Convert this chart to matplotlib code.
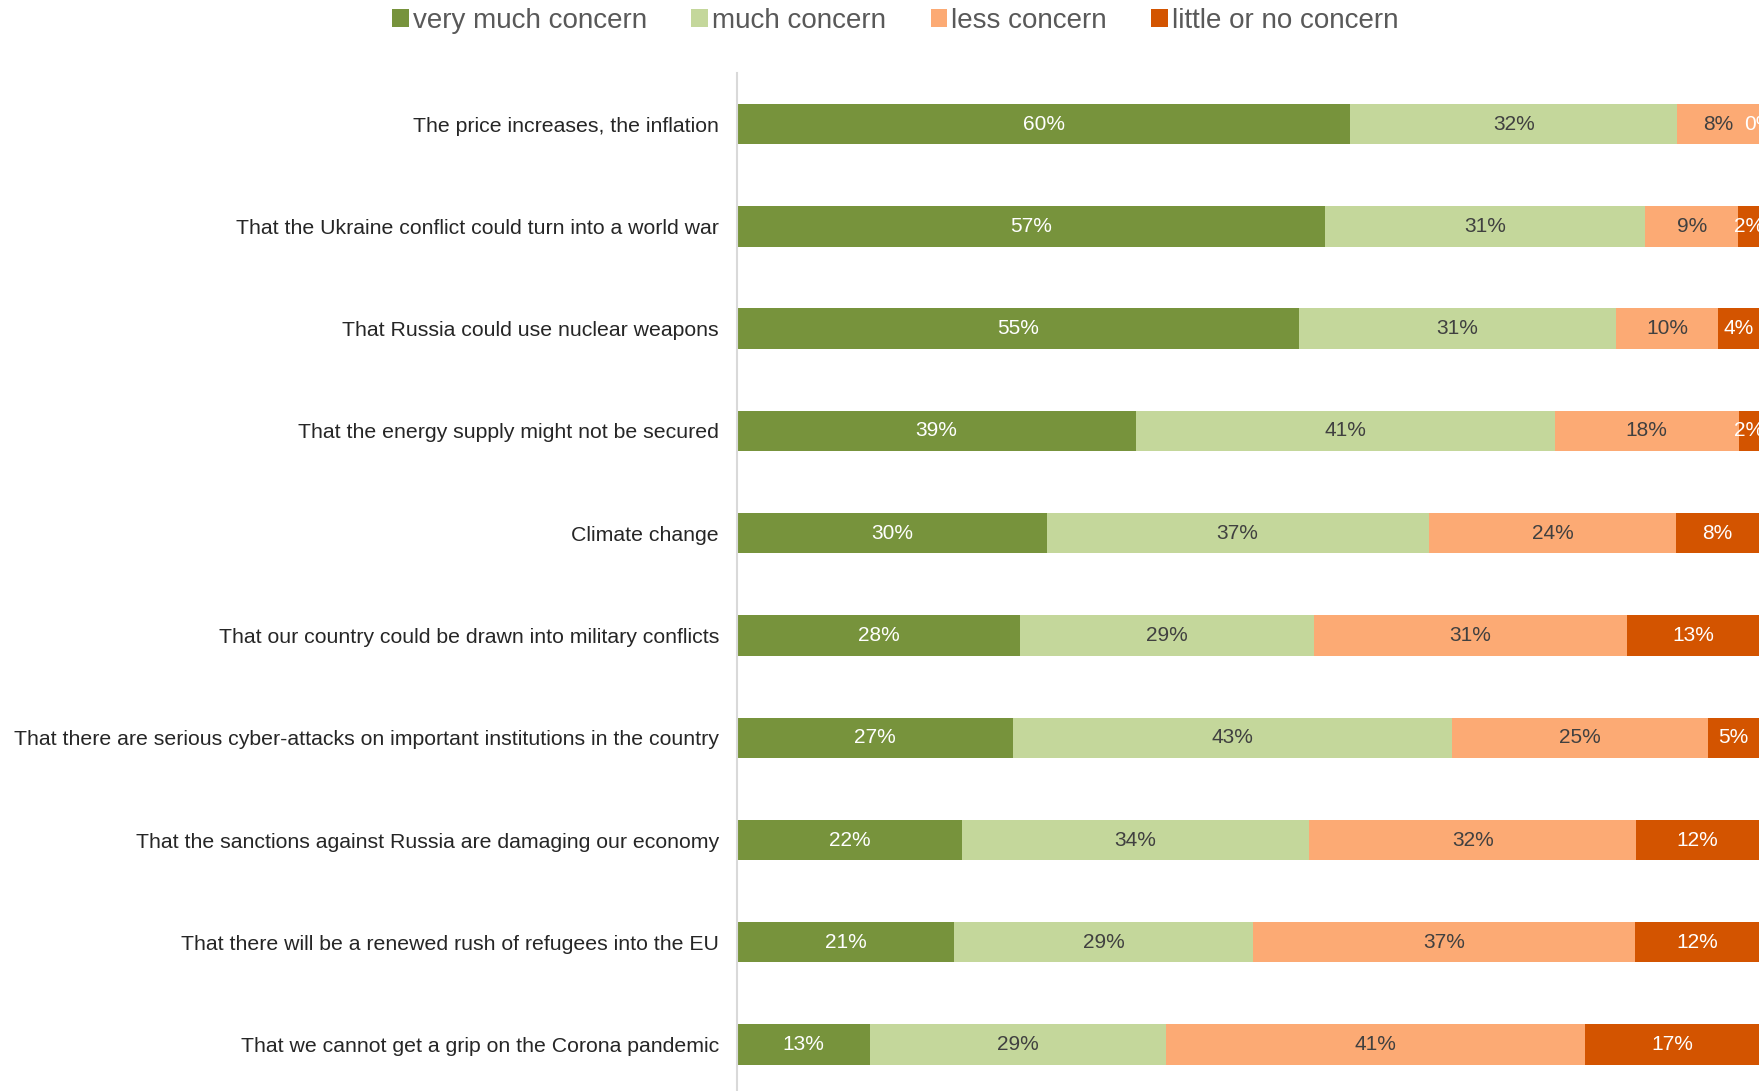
import numpy as np
from matplotlib import pyplot as plt

plt.rcParams['font.family'] = ['Liberation Sans', 'DejaVu Sans']

categories = [
    'The price increases, the inflation',
    'That the Ukraine conflict could turn into a world war',
    'That Russia could use nuclear weapons',
    'That the energy supply might not be secured',
    'Climate change',
    'That our country could be drawn into military conflicts',
    'That there are serious cyber-attacks on important institutions in the country',
    'That the sanctions against Russia are damaging our economy',
    'That there will be a renewed rush of refugees into the EU',
    'That we cannot get a grip on the Corona pandemic',
]
very_much = [60, 57, 55, 39, 30, 28, 27, 22, 21, 13]
much = [32, 31, 31, 41, 37, 29, 43, 34, 29, 29]
less = [8, 9, 10, 18, 24, 31, 25, 32, 37, 41]
little = [0, 2, 4, 2, 8, 13, 5, 12, 12, 17]

series_names = ['very much concern', 'much concern', 'less concern', 'little or no concern']
colors = ['#77933C', '#C4D79B', '#FCAA74', '#D35400']
text_colors = ['white', '#404040', '#404040', 'white']

data = np.array([very_much, much, less, little], dtype=float)
# 100% stacked: each row fills the full width
shares = data / data.sum(axis=0) * 100

fig = plt.figure(figsize=(17.59, 10.91), dpi=100)
ax = fig.add_axes([737 / 1759, -0.0043, 1 - 737 / 1759, 1 - 73 / 1091 + 0.0043])

y = np.arange(len(categories))
left = np.zeros(len(categories))
for name, raw, vals, c, tc in zip(series_names, data, shares, colors, text_colors):
    ax.barh(y, vals, left=left, height=0.395, color=c, label=name)
    for yi, l, v, r in zip(y, left, vals, raw):
        ax.text(l + v / 2, yi, f'{int(r)}%', ha='center', va='center',
                color=tc, fontsize=15, clip_on=True)
    left += vals

ax.set_xlim(0, 100)
ax.set_ylim(len(categories) - 0.5, -0.5)
ax.set_yticks(y)
ax.set_yticklabels(categories, fontsize=15.3, color='#262626')
ax.tick_params(axis='y', length=0, pad=13)
ax.set_xticks([])
for s in ['top', 'right', 'bottom']:
    ax.spines[s].set_visible(False)
ax.spines['left'].set_color('#D9D9D9')
ax.spines['left'].set_linewidth(1.5)

handles, labels = ax.get_legend_handles_labels()
leg = fig.legend(handles, labels, loc='center', bbox_to_anchor=(0.509, 1 - 21 / 1091),
                 ncol=4, frameon=False, fontsize=20, handlelength=0.6, handleheight=0.6,
                 handletextpad=0.15, columnspacing=1.6)
for t in leg.get_texts():
    t.set_color('#595959')

plt.savefig('out.png', dpi=100)
